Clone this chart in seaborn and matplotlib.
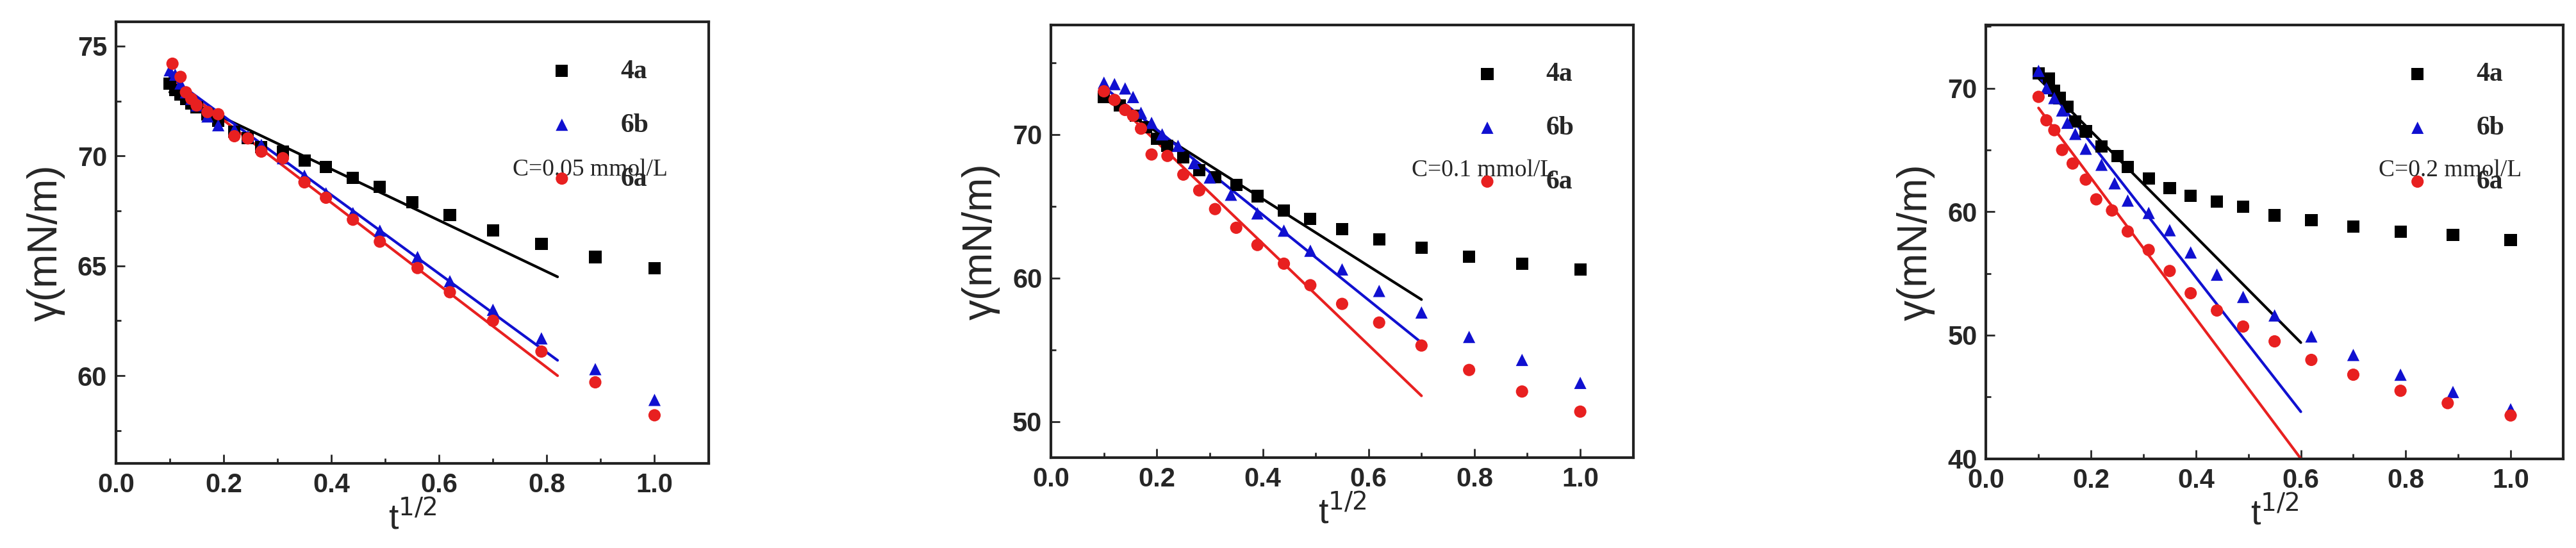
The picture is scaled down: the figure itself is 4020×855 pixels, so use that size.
import numpy as np
import pandas as pd
import matplotlib
matplotlib.use("Agg")
import matplotlib.pyplot as plt
import seaborn as sns
from matplotlib.ticker import MultipleLocator

sns.set_theme(style="white")
plt.rcParams['font.family'] = ['Liberation Sans', 'DejaVu Sans']

series_names = ["4a", "6b", "6a"]
colors = {"4a": "black", "6b": "#1010d0", "6a": "#e82020"}
markers = {"4a": "s", "6b": "^", "6a": "o"}

# Panel 1: C=0.05 mmol/L
p1_4a_x = [0.1, 0.11, 0.12, 0.13, 0.14, 0.15, 0.17, 0.19, 0.22, 0.245, 0.27, 0.31, 0.35, 0.39, 0.44, 0.49, 0.55, 0.62, 0.70, 0.79, 0.89, 1.0]
p1_4a_y = [73.3, 73.0, 72.8, 72.6, 72.4, 72.2, 71.9, 71.6, 71.1, 70.8, 70.4, 70.2, 69.8, 69.5, 69.0, 68.6, 67.9, 67.3, 66.6, 66.0, 65.4, 64.9]
p1_6b_x = [0.1, 0.11, 0.12, 0.13, 0.14, 0.15, 0.17, 0.19, 0.22, 0.245, 0.27, 0.31, 0.35, 0.39, 0.44, 0.49, 0.56, 0.62, 0.70, 0.79, 0.89, 1.0]
p1_6b_y = [73.9, 73.7, 73.3, 72.9, 72.6, 72.3, 71.8, 71.4, 71.2, 70.9, 70.5, 69.9, 69.1, 68.3, 67.4, 66.6, 65.4, 64.3, 63.0, 61.7, 60.3, 58.9]
p1_6a_x = [0.105, 0.12, 0.13, 0.14, 0.15, 0.17, 0.19, 0.22, 0.245, 0.27, 0.31, 0.35, 0.39, 0.44, 0.49, 0.56, 0.62, 0.70, 0.79, 0.89, 1.0]
p1_6a_y = [74.2, 73.6, 72.9, 72.6, 72.3, 72.0, 71.9, 70.9, 70.8, 70.2, 69.9, 68.8, 68.1, 67.1, 66.1, 64.9, 63.8, 62.5, 61.1, 59.7, 58.2]
p1_fit_x = {"4a": [0.1, 0.82], "6b": [0.1, 0.82], "6a": [0.1, 0.82]}
p1_fit_y = {"4a": [72.9, 64.5], "6b": [73.6, 60.7], "6a": [73.5, 60.0]}

# Panel 2: C=0.1 mmol/L
p2_4a_x = [0.1, 0.13, 0.16, 0.18, 0.2, 0.22, 0.25, 0.28, 0.31, 0.35, 0.39, 0.44, 0.49, 0.55, 0.62, 0.70, 0.79, 0.89, 1.0]
p2_4a_y = [72.6, 72.0, 71.3, 70.5, 69.7, 69.2, 68.4, 67.5, 67.0, 66.5, 65.7, 64.7, 64.1, 63.4, 62.7, 62.1, 61.5, 61.0, 60.6]
p2_6b_x = [0.1, 0.12, 0.14, 0.155, 0.17, 0.19, 0.21, 0.24, 0.27, 0.30, 0.34, 0.39, 0.44, 0.49, 0.55, 0.62, 0.70, 0.79, 0.89, 1.0]
p2_6b_y = [73.6, 73.5, 73.2, 72.6, 71.5, 70.8, 70.0, 69.2, 68.0, 67.0, 65.8, 64.5, 63.3, 61.9, 60.6, 59.1, 57.6, 55.9, 54.3, 52.7]
p2_6a_x = [0.1, 0.12, 0.14, 0.155, 0.17, 0.19, 0.22, 0.25, 0.28, 0.31, 0.35, 0.39, 0.44, 0.49, 0.55, 0.62, 0.70, 0.79, 0.89, 1.0]
p2_6a_y = [73.0, 72.4, 71.7, 71.3, 70.4, 68.6, 68.5, 67.2, 66.1, 64.8, 63.5, 62.3, 61.0, 59.5, 58.2, 56.9, 55.3, 53.6, 52.1, 50.7]
p2_fit_x = {"4a": [0.1, 0.7], "6b": [0.1, 0.7], "6a": [0.1, 0.7]}
p2_fit_y = {"4a": [72.5, 58.5], "6b": [73.3, 55.5], "6a": [73.0, 51.8]}

# Panel 3: C=0.2 mmol/L
p3_4a_x = [0.1, 0.12, 0.13, 0.14, 0.155, 0.17, 0.19, 0.22, 0.25, 0.27, 0.31, 0.35, 0.39, 0.44, 0.49, 0.55, 0.62, 0.70, 0.79, 0.89, 1.0]
p3_4a_y = [71.2, 70.8, 69.8, 69.2, 68.5, 67.3, 66.5, 65.3, 64.5, 63.6, 62.7, 61.9, 61.3, 60.8, 60.4, 59.7, 59.3, 58.8, 58.4, 58.1, 57.7]
p3_6b_x = [0.1, 0.115, 0.13, 0.145, 0.155, 0.17, 0.19, 0.22, 0.245, 0.27, 0.31, 0.35, 0.39, 0.44, 0.49, 0.55, 0.62, 0.70, 0.79, 0.89, 1.0]
p3_6b_y = [71.4, 70.0, 69.2, 68.2, 67.2, 66.3, 65.1, 63.8, 62.3, 60.9, 59.9, 58.5, 56.7, 54.9, 53.1, 51.6, 49.9, 48.4, 46.8, 45.4, 44.0]
p3_6a_x = [0.1, 0.115, 0.13, 0.145, 0.165, 0.19, 0.21, 0.24, 0.27, 0.31, 0.35, 0.39, 0.44, 0.49, 0.55, 0.62, 0.70, 0.79, 0.88, 1.0]
p3_6a_y = [69.3, 67.4, 66.6, 65.0, 63.9, 62.6, 61.0, 60.1, 58.4, 56.9, 55.2, 53.4, 52.0, 50.7, 49.5, 48.0, 46.8, 45.5, 44.5, 43.5]
p3_fit_x = {"4a": [0.1, 0.6], "6b": [0.1, 0.6], "6a": [0.1, 0.6]}
p3_fit_y = {"4a": [70.8, 49.4], "6b": [71.0, 43.8], "6a": [68.4, 40.0]}

panels = [
    dict(pts={"4a": (p1_4a_x, p1_4a_y), "6b": (p1_6b_x, p1_6b_y), "6a": (p1_6a_x, p1_6a_y)},
         fx=p1_fit_x, fy=p1_fit_y, label="C=0.05 mmol/L", ylim=(56, 76.1), major=5, minor=2.5,
         pos=[0.045, 0.154, 0.230, 0.806], ctext_x=0.67),
    dict(pts={"4a": (p2_4a_x, p2_4a_y), "6b": (p2_6b_x, p2_6b_y), "6a": (p2_6a_x, p2_6a_y)},
         fx=p2_fit_x, fy=p2_fit_y, label="C=0.1 mmol/L", ylim=(47.5, 77.6), major=10, minor=5,
         pos=[0.408, 0.165, 0.226, 0.789], ctext_x=0.62),
    dict(pts={"4a": (p3_4a_x, p3_4a_y), "6b": (p3_6b_x, p3_6b_y), "6a": (p3_6a_x, p3_6a_y)},
         fx=p3_fit_x, fy=p3_fit_y, label="C=0.2 mmol/L", ylim=(40, 75.1), major=10, minor=5,
         pos=[0.771, 0.163, 0.224, 0.791], ctext_x=0.68),
]

fig = plt.figure(figsize=(40.2, 8.55), dpi=100)
for p in panels:
    ax = fig.add_axes(p["pos"])
    for name in series_names:
        x, y = p["pts"][name]
        df = pd.DataFrame({"x": x, "y": y})
        sns.scatterplot(data=df, x="x", y="y", ax=ax, color=colors[name], marker=markers[name],
                        s=190, edgecolor="none", label=name, zorder=3)
    for name in series_names:
        dfl = pd.DataFrame({"x": p["fx"][name], "y": p["fy"][name]})
        sns.lineplot(data=dfl, x="x", y="y", ax=ax, color=colors[name], lw=3, zorder=2)
    ax.set_xlim(0, 1.1)
    ax.set_ylim(*p["ylim"])
    ax.xaxis.set_major_locator(MultipleLocator(0.2))
    ax.xaxis.set_minor_locator(MultipleLocator(0.1))
    ax.yaxis.set_major_locator(MultipleLocator(p["major"]))
    ax.yaxis.set_minor_locator(MultipleLocator(p["minor"]))
    ax.tick_params(which="both", direction="in", bottom=True, left=True, top=False, right=False)
    ax.tick_params(which="major", length=10, width=2, labelsize=30, pad=10)
    ax.tick_params(which="minor", length=6, width=2)
    for lab in ax.get_xticklabels() + ax.get_yticklabels():
        lab.set_fontweight("bold")
    for sp in ax.spines.values():
        sp.set_linewidth(3)
        sp.set_color("#222222")
    ax.set_xlabel("t$^{1/2}$", fontsize=40, labelpad=4)
    ax.set_ylabel("γ(mN/m)", fontsize=46, labelpad=14)
    leg = ax.legend(loc="upper right", bbox_to_anchor=(0.94, 0.97), frameon=False,
                    prop={"family": "Liberation Serif", "weight": "bold", "size": 30},
                    handletextpad=1.2, labelspacing=1.1, markerscale=1.0)
    ax.text(p["ctext_x"], 0.665, p["label"], transform=ax.transAxes, fontsize=27,
            family="Liberation Serif", va="center")

fig.savefig("out.png", dpi=100, facecolor="white")
